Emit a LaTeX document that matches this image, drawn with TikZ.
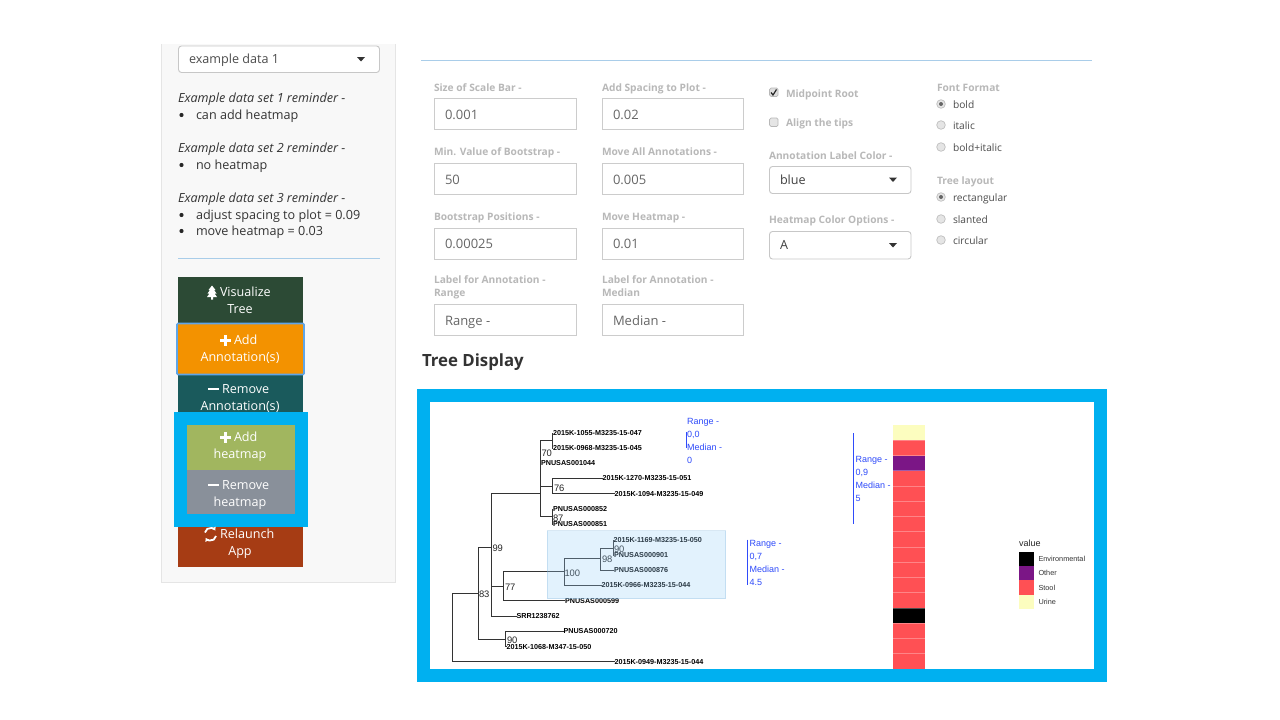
\documentclass[tikz,border=0pt]{standalone}
\usepackage{fontspec}
\usetikzlibrary{arrows.meta}
\setmainfont{Open Sans}
\newfontfamily\helv{Liberation Sans}
\definecolor{framebl}{HTML}{00B0F0}
\definecolor{rulebl}{HTML}{A9CDE9}
\definecolor{lab}{HTML}{B8B8B8}
\definecolor{val}{HTML}{666666}
\definecolor{ink}{HTML}{333333}
\definecolor{anno}{HTML}{2F4BFA}
\definecolor{stool}{HTML}{FF5054}
\definecolor{other}{HTML}{7B1686}
\definecolor{urine}{HTML}{FCFDBF}
\definecolor{bviz}{HTML}{2C4A35}
\definecolor{brem}{HTML}{1A5A5C}
\definecolor{brel}{HTML}{A63C14}
\definecolor{badd}{HTML}{F39200}
\definecolor{bglow}{HTML}{5FA5E8}
\definecolor{bhadd}{HTML}{A1B65F}
\definecolor{bhrem}{HTML}{89909A}
\definecolor{hlfill}{rgb}{.6,.82,.98}
\definecolor{hldraw}{rgb}{.45,.68,.85}
\definecolor{panel}{HTML}{F8F8F8}
\tikzset{
 x=1pt,y=-1pt,
 txt/.style={font=\fontsize{#1}{#1}\selectfont,inner sep=0pt,outer sep=0pt,text height=0.72*#1 pt,text depth=0.22*#1 pt,anchor=west,yshift=-1.3pt},
 body/.style={txt=12.6,text=ink},
 ital/.style={txt=12.6,text=ink,font=\fontsize{12.6}{12.6}\selectfont\itshape},
 btntxt/.style={txt=12.6,text=white},
 btnc/.style={btntxt,anchor=center},
 flabel/.style={txt=10.2,text=lab,font=\fontsize{10.2}{10.2}\selectfont\bfseries},
 fval/.style={txt=13,text=val},
 inbox/.style={draw=black!20,line width=1.2pt,fill=white},
 selbox/.style={draw=black!22,line width=.9pt,fill=white,rounded corners=3pt},
 careta/.style={fill=black!80,draw=none},
 opt/.style={txt=10.2,text=black!70},
 radio/.style={circle,minimum size=8.6pt,inner sep=0pt,draw=black!25,fill=black!10,line width=.7pt},
 tip/.style={font=\helv\bfseries\fontsize{7.2}{7.2}\selectfont,inner sep=0pt,outer sep=0pt,text height=5.2pt,text depth=0pt,anchor=west,text=black},
 boot/.style={font=\helv\fontsize{9.4}{9.4}\selectfont,inner sep=0pt,outer sep=0pt,text height=6.8pt,text depth=0pt,anchor=west,text=black!85,yshift=-1pt},
 ann/.style={font=\helv\fontsize{9}{9}\selectfont,inner sep=0pt,outer sep=0pt,text height=6.6pt,text depth=1.8pt,anchor=west,text=anno,yshift=-1pt},
 annbar/.style={draw=anno,line width=.9pt},
 br/.style={draw=black!80,line width=.85pt,line cap=rect},
 leg/.style={font=\helv\fontsize{7.3}{7.3}\selectfont,inner sep=0pt,outer sep=0pt,text height=5.3pt,text depth=1.5pt,anchor=west,text=black!80,yshift=-1pt},
}
\newcommand{\caretat}[2]{\fill[careta] (#1-4,#2-2) -- (#1+4,#2-2) -- (#1,#2+2.5) -- cycle;}
\begin{document}
\begin{tikzpicture}
\useasboundingbox (0,0) rectangle (1280,720);
\fill[white] (0,0) rectangle (1280,720);
% left panel
\filldraw[fill=panel,draw=black!10,line width=.8pt] (161.5,44) -- (161.5,582.5) -- (395.5,582.5) -- (395.5,44);
\draw[selbox] (178.5,46) rectangle (379.5,72.5);
\node[txt=12.6,text=black!70] (seltxt) at (189,59.5) {example data 1};
\caretat{361}{59}
\node[ital] (r1) at (178,98) {Example data set 1 reminder -};
\node[body] (b1) at (196,115) {can add heatmap};
\node[ital] (r2) at (178,148) {Example data set 2 reminder -};
\node[body] (b2) at (196,165) {no heatmap};
\node[ital] (r3) at (178,198) {Example data set 3 reminder -};
\node[body] (b3) at (196,215) {adjust spacing to plot = 0.09};
\node[body] (b4) at (196,231) {move heatmap = 0.03};
\foreach \yy in {115,165,215,231}{\fill[black!85] (181.5,\yy) circle (2.1);}
\draw[rulebl,line width=.8pt] (178,258.5) -- (380,258.5);
% buttons
\fill[bviz] (178,277) rectangle (303,324);
\fill[brem] (178,374) rectangle (303,420);
\fill[brel] (178,520) rectangle (303,566.5);
\filldraw[fill=badd,draw=bglow,line width=1.6pt,rounded corners=1pt] (177,323.5) rectangle (304,374.5);
% tree icon
\fill[white] (212,285.5) -- (215.5,290) -- (214,290) -- (216.5,293.5) -- (214.5,293.5) -- (217,297) -- (213,297) -- (213,299.5) -- (211,299.5) -- (211,297) -- (207,297) -- (209.5,293.5) -- (207.5,293.5) -- (210,290) -- (208.5,290) -- cycle;
\node[btntxt] (v1) at (220,292) {Visualize};
\node[btnc] (v2) at (240,309) {Tree};
\node[btntxt] (aa1) at (234,340) {Add};
\node[btnc] (aa2) at (240,357) {Annotation(s)};
\node[btntxt] (ra1) at (222,389) {Remove};
\node[btnc] (ra2) at (240,406) {Annotation(s)};
\fill[white] (220,338.8) rectangle (231,341.6);
\fill[white] (224.1,334.7) rectangle (226.9,345.7);
\fill[white] (208,387.6) rectangle (219,390.4);
% blue frame on buttons
\fill[framebl] (174,412) rectangle (308,527);
\fill[bhadd] (187,425) rectangle (295,469.5);
\fill[bhrem] (187,469.5) rectangle (295,514);
\node[btntxt] (ah1) at (234,437) {Add};
\node[btnc] (ah2) at (240,454) {heatmap};
\node[btntxt] (rh1) at (222,485) {Remove};
\node[btnc] (rh2) at (240,502) {heatmap};
\fill[white] (220,435.8) rectangle (231,438.6);
\fill[white] (224.1,431.7) rectangle (226.9,442.7);
\fill[white] (208,483.6) rectangle (219,486.4);
% relaunch
\node[btntxt] (rl1) at (220,534) {Relaunch};
\node[btnc] (rl2) at (240,551) {App};
\draw[white,line width=1.8pt,-{Latex[length=3.4pt,width=5pt]}] (205,532.5) arc[start angle=170,end angle=30,x radius=5.6,y radius=-5.6];
\draw[white,line width=1.8pt,-{Latex[length=3.4pt,width=5pt]}] (216,536) arc[start angle=-10,end angle=-150,x radius=5.6,y radius=-5.6];
% form
\draw[rulebl,line width=.8pt] (421,60.5) -- (1092,60.5);
\node[flabel] (l1) at (434,87.5) {Size of Scale Bar -};
\draw[inbox] (434.5,98.5) rectangle (576.5,129.5);
\node[fval] (f1) at (445,115) {0.001};
\node[flabel] (l2) at (434,152) {Min. Value of Bootstrap -};
\draw[inbox] (434.5,163.5) rectangle (576.5,194.5);
\node[fval] (f2) at (445,179.5) {50};
\node[flabel] (l3) at (434,217) {Bootstrap Positions -};
\draw[inbox] (434.5,228.5) rectangle (576.5,259.5);
\node[fval] (f3) at (445,244) {0.00025};
\node[flabel] (l4) at (434,279.5) {Label for Annotation -};
\node[flabel] (l4b) at (434,293) {Range};
\draw[inbox] (434.5,304.5) rectangle (576.5,335.5);
\node[fval] (f4) at (445,320.5) {Range -};
\node[flabel] (l5) at (602,87.5) {Add Spacing to Plot -};
\draw[inbox] (602.5,98.5) rectangle (743.5,129.5);
\node[fval] (f5) at (613,115) {0.02};
\node[flabel] (l6) at (602,152) {Move All Annotations -};
\draw[inbox] (602.5,163.5) rectangle (743.5,194.5);
\node[fval] (f6) at (613,179.5) {0.005};
\node[flabel] (l7) at (602,217) {Move Heatmap -};
\draw[inbox] (602.5,228.5) rectangle (743.5,259.5);
\node[fval] (f7) at (613,244) {0.01};
\node[flabel] (l8) at (602,279.5) {Label for Annotation -};
\node[flabel] (l8b) at (602,293) {Median};
\draw[inbox] (602.5,304.5) rectangle (743.5,335.5);
\node[fval] (f8) at (613,320.5) {Median -};
% checks
\filldraw[fill=black!13,draw=black!28,line width=.7pt,rounded corners=1.5pt] (769.5,88) rectangle (778,96.5);
\draw[black!85,line width=1.2pt] (771,92.5) -- (773,95) -- (776.5,89.5);
\node[flabel] (c1) at (786,93.5) {Midpoint Root};
\filldraw[fill=black!10,draw=black!28,line width=.7pt,rounded corners=1.5pt] (769.5,118) rectangle (778,126.5);
\node[flabel] (c2) at (786,123) {Align the tips};
\node[flabel] (l9) at (769,155.5) {Annotation Label Color -};
\draw[selbox] (769.5,166.5) rectangle (911,193.5);
\node[txt=12.6,text=black!75] (s1) at (780,180.5) {blue};
\caretat{893}{179.5}
\node[flabel] (l10) at (769,220) {Heatmap Color Options -};
\draw[selbox] (769.5,231.5) rectangle (911,259);
\node[txt=12.6,text=black!75] (s2) at (780,245.5) {A};
\caretat{893}{245}
\node[flabel] (l11) at (937,87.5) {Font Format};
\node[radio] (ro1) at (941,104) {};
\fill[black!60] (ro1) circle (2);
\node[opt] (o1) at (953,105) {bold};
\node[radio] (ro2) at (941,125) {};
\node[opt] (o2) at (953,126) {italic};
\node[radio] (ro3) at (941,147) {};
\node[opt] (o3) at (953,148) {bold+italic};
\node[flabel] (l12) at (937,180.5) {Tree layout};
\node[radio] (ro4) at (941,197) {};
\fill[black!60] (ro4) circle (2);
\node[opt] (o4) at (953,198) {rectangular};
\node[radio] (ro5) at (941,219) {};
\node[opt] (o5) at (953,220) {slanted};
\node[radio] (ro6) at (941,240) {};
\node[opt] (o6) at (953,241) {circular};
\node[txt=16.8,text=ink,font=\fontsize{16.8}{16.8}\selectfont\bfseries] (title) at (422,361) {Tree Display};
% plot frame
\fill[framebl] (417,389) rectangle (1107,682);
\fill[white] (430,402) rectangle (1094,669);
% tips
\node[tip] (t1) at (553,433) {2015K-1055-M3235-15-047};
\node[tip] (t2) at (553,448) {2015K-0968-M3235-15-045};
\node[tip] (t3) at (541,463) {PNUSAS001044};
\node[tip] (t4) at (602.5,478) {2015K-1270-M3235-15-051};
\node[tip] (t5) at (614.5,493.5) {2015K-1094-M3235-15-049};
\node[tip] (t6) at (553,509) {PNUSAS000852};
\node[tip] (t7) at (553,524) {PNUSAS000851};
\node[tip] (t8) at (613.5,540) {2015K-1169-M3235-15-050};
\node[tip] (t9) at (614,555) {PNUSAS000901};
\node[tip] (t10) at (614,570) {PNUSAS000876};
\node[tip] (t11) at (601.5,585) {2015K-0966-M3235-15-044};
\node[tip] (t12) at (565,600.5) {PNUSAS000599};
\node[tip] (t13) at (516.5,616) {SRR1238762};
\node[tip] (t14) at (563.5,631) {PNUSAS000720};
\node[tip] (t15) at (506.5,646.5) {2015K-1068-M347-15-050};
\node[tip] (t16) at (614.5,661.5) {2015K-0949-M3235-15-044};
% junctions
\coordinate (root) at (452.8,593);
\coordinate (j83) at (478.3,593);
\coordinate (j99) at (491,547);
\coordinate (j90b) at (505,639);
\coordinate (j77) at (503,586);
\coordinate (j100) at (564.3,571);
\coordinate (j98) at (600.5,558);
\coordinate (j90) at (613,548);
\coordinate (jA) at (540.3,493);
\coordinate (j70) at (552.3,440.5);
\coordinate (j76) at (552,486);
\coordinate (j87) at (552.3,516.5);
% branches
\draw[br] (root) |- (t16.west);
\draw[br] (root) -- (j83);
\draw[br] (j83) |- (j99);
\draw[br] (j83) |- (j90b);
\draw[br] (j90b) |- (t14.west);
\draw[br] (j90b) |- (t15.west);
\draw[br] (j99) |- (jA);
\draw[br] (j99) |- (t13.west);
\draw[br] (j99) |- (j77);
\draw[br] (j77) |- (t12.west);
\draw[br] (j77) |- (j100);
\draw[br] (j100) |- (t11.west);
\draw[br] (j100) |- (j98);
\draw[br] (j98) |- (t10.west);
\draw[br] (j98) |- (j90);
\draw[br] (j90) |- (t8.west);
\draw[br] (j90) |- (t9.west);
\draw[br] (jA) |- (j70);
\draw[br] (jA) |- (j76);
\draw[br] (jA) |- (j87);
\draw[br] (jA) |- (t3.west);
\draw[br] (j70) |- (t1.west);
\draw[br] (j70) |- (t2.west);
\draw[br] (j76) |- (t4.west);
\draw[br] (j76) |- (t5.west);
\draw[br] (j87) |- (t6.west);
\draw[br] (j87) |- (t7.west);
% bootstraps
\node[boot] (n70) at (541.5,452) {70};
\node[boot] (n76) at (554,487) {76};
\node[boot] (n87) at (553,517) {87};
\node[boot] (n99) at (492.5,547.5) {99};
\node[boot] (n83) at (479,593.5) {83};
\node[boot] (n77) at (505,586.5) {77};
\node[boot] (n100) at (564.5,572.5) {100};
\node[boot] (n98) at (602,558.5) {98};
\node[boot] (n90a) at (614,548) {90};
\node[boot] (n90b) at (507,639.5) {90};
% highlight
\filldraw[fill=hlfill,draw=hldraw,line width=.7pt,opacity=.28] (547,530.5) rectangle (725.5,598.5);
% annotations
\draw[annbar] (686.3,432) -- (686.3,448);
\node[ann] (a1) at (687,421) {Range -};
\node[ann] (a2) at (687,434) {0,0};
\node[ann] (a3) at (687,447.5) {Median -};
\node[ann] (a4) at (687,460.5) {0};
\draw[annbar] (853.5,433) -- (853.5,524);
\node[ann] (a5) at (855.5,459) {Range -};
\node[ann] (a6) at (855.5,472) {0,9};
\node[ann] (a7) at (855.5,485.5) {Median -};
\node[ann] (a8) at (855.5,498.5) {5};
\draw[annbar] (747.8,539.5) -- (747.8,585);
\node[ann] (a9) at (749.5,543) {Range -};
\node[ann] (a10) at (749.5,556) {0,7};
\node[ann] (a11) at (749.5,569) {Median -};
\node[ann] (a12) at (749.5,582) {4.5};
% heatmap
\foreach \r/\c in {0/urine,1/stool,2/other,3/stool,4/stool,5/stool,6/stool,7/stool,8/stool,9/stool,10/stool,11/stool,12/black,13/stool,14/stool,15/stool}{
 \fill[\c] (893,{425+\r*15.25}) rectangle (925,{425+(\r+1)*15.25});
}
\foreach \r in {1,...,15}{
 \draw[white,opacity=.3,line width=.9pt] (893,{425+\r*15.25}) -- (925,{425+\r*15.25});
}
% legend
\node[font=\helv\fontsize{9}{9}\selectfont,inner sep=0pt,anchor=west,text=black!85] (lt) at (1019,543) {value};
\fill[black] (1019,551.5) rectangle (1033.5,566);
\fill[other] (1019,566) rectangle (1033.5,580);
\fill[stool] (1019,580) rectangle (1033.5,594.5);
\fill[urine] (1019,594.5) rectangle (1033.5,609);
\node[leg] (g1) at (1038.5,559) {Environmental};
\node[leg] (g2) at (1038.5,573) {Other};
\node[leg] (g3) at (1038.5,588) {Stool};
\node[leg] (g4) at (1038.5,602) {Urine};
\end{tikzpicture}
\end{document}
